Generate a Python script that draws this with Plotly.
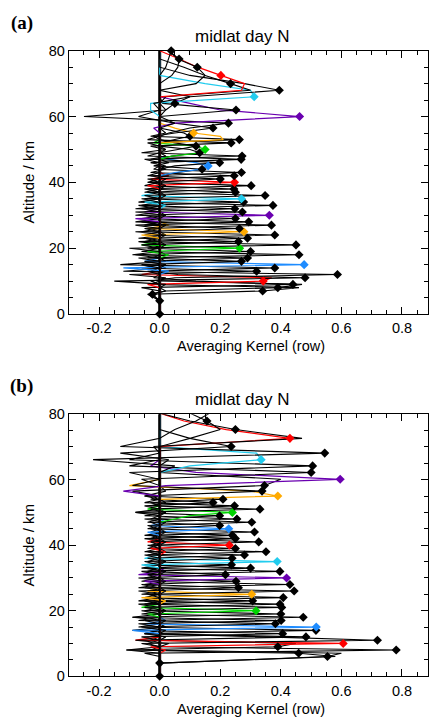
import plotly.graph_objects as go

# ---------------- data: panel (a) ----------------
A_ALT = [0, 4, 6, 7, 8, 9, 10, 11, 12, 13, 14, 15, 16, 17, 18, 19, 20, 21, 22, 23, 24,
         25, 26, 27, 28, 29, 30, 31, 32, 33, 34, 35, 36, 37, 38, 39, 40, 41, 42, 43, 44,
         45, 46, 47, 48, 49, 50, 51, 52, 53, 54, 55, 56.5, 58, 60, 62, 64, 66, 68, 70,
         72.5, 75, 77.5, 80]
A_PEAK = [0, 0, -0.024, 0.34, 0.39, 0.44, 0.342, 0.48, 0.587, 0.32, 0.38, 0.477, 0.27,
          0.29, 0.46, 0.30, 0.264, 0.45, 0.26, 0.29, 0.38, 0.278, 0.263, 0.369, 0.294,
          0.25, 0.362, 0.273, 0.248, 0.374, 0.277, 0.27, 0.348, 0.25, 0.245, 0.302, 0.247,
          0.20, 0.246, 0.27, 0.14, 0.16, 0.198, 0.269, 0.272, 0.132, 0.15, 0.12, 0.236,
          0.263, 0.10, 0.112, 0.176, 0.227, 0.462, 0.252, 0.05, 0.312, 0.395, 0.234,
          0.202, 0.124, 0.064, 0.038]
A_LO1 = [0, 0, 0, -0.03, 0.02, -0.06, -0.04, -0.15, 0.05, -0.10, -0.04, -0.12, -0.06,
         -0.05, -0.07, -0.08, -0.04, -0.10, -0.06, -0.07, -0.05, -0.06, -0.08, -0.05,
         -0.08, -0.06, -0.08, -0.05, -0.08, -0.06, -0.07, -0.05, -0.06, -0.05, -0.04,
         -0.05, -0.04, -0.03, -0.04, -0.03, 0.06, 0.14, 0.05, -0.03, -0.05, 0.04, 0.14,
         0.06, -0.03, -0.04, 0.05, 0.20, 0.05, 0.10, 0.05, 0.0, 0.02, -0.03, 0.10, 0.30,
         0.28, 0.15, 0.06, 0.03]
A_HI1 = [0, 0, 0.02, 0.46, 0.47, 0.12, 0.37, 0.06, -0.12, -0.06, -0.13, -0.05, -0.04,
         -0.09, -0.06, -0.04, -0.06, -0.05, -0.07, -0.05, -0.06, -0.04, -0.05, -0.08,
         -0.06, -0.08, -0.05, -0.08, -0.06, -0.07, -0.05, -0.06, -0.05, -0.04, -0.05,
         -0.04, -0.03, -0.04, -0.03, -0.02, -0.02, 0.12, -0.03, -0.04, -0.06, 0.10, 0.12,
         0.05, -0.04, -0.03, 0.08, 0.05, 0.05, -0.25, 0.20, 0.01, 0.10, 0.30, 0.28, 0.15,
         0.125, 0.06, 0.03, 0]
A_LO2 = [0, 0, 0, 0, -0.04, 0, 0, 0.02, -0.03, 0.02, 0, 0.03, 0, 0.02, 0, 0, 0.03, 0, 0,
         0.02, 0, 0, 0.02, 0, 0, 0.02, 0, 0, 0.02, 0, 0, 0.02, 0, 0, 0.02, 0, 0, 0.02, 0,
         0.02, 0, 0.05, 0, 0.02, 0, 0, 0.04, 0, 0.02, 0, 0, 0.21, -0.02, 0.03, -0.02, 0.05,
         0, -0.03, -0.02, 0.02, 0.27, 0.12, 0.04, 0.02]
A_HI2 = [0, 0, 0, -0.03, 0, -0.02, -0.06, -0.03, 0.02, 0, 0.02, 0, 0.02, 0, 0, 0.02, 0,
         0, 0.02, 0, 0, 0.03, 0, 0, 0.02, 0, 0, 0.02, 0, 0, 0.02, 0, 0, 0.02, 0, 0, 0.03,
         0, 0.02, 0, 0.03, 0.03, 0.02, 0, 0.02, 0, -0.02, 0, 0, 0.02, 0, 0, -0.07, 0.02,
         0.10, 0, 0, 0.15, 0.10, 0.08, 0.065, 0.03, 0, 0]
A_HIGHLIGHT = [10, 15, 20, 25, 30, 35, 40, 45, 50, 55, 60, 66, 72.5]

# ---------------- data: panel (b) ----------------
B_ALT = [0, 4, 6, 7, 8, 9, 10, 11, 12, 13, 14, 15, 16, 17, 18, 19, 20, 21, 22, 23, 24,
         25, 26, 27, 28, 29, 30, 31, 32, 33, 34, 35, 36, 37, 38, 39, 40, 41, 42, 43, 44,
         45, 46, 47, 48, 49, 50, 51, 52, 53, 54, 55, 56.5, 58.2, 60.1, 62.2, 64.2, 66.1,
         68.1, 70.1, 72.6, 75.3, 77.9, 80.3]
B_PEAK = [0, 0, 0.554, 0.459, 0.781, 0.39, 0.606, 0.719, 0.483, 0.406, 0.516, 0.517,
          0.382, 0.401, 0.474, 0.40, 0.318, 0.403, 0.397, 0.307, 0.408, 0.304, 0.444,
          0.26, 0.43, 0.252, 0.419, 0.217, 0.397, 0.30, 0.237, 0.388, 0.239, 0.28, 0.351,
          0.25, 0.23, 0.327, 0.25, 0.24, 0.313, 0.228, 0.198, 0.304, 0.255, 0.198, 0.24,
          0.331, 0.247, 0.176, 0.209, 0.39, 0.338, 0.346, 0.596, 0.50, 0.505, 0.335,
          0.545, 0.236, 0.43, 0.25, 0.156, 0.165]
B_LO1 = [0, 0, 0, 0.58, -0.05, -0.11, -0.03, -0.06, -0.08, -0.06, -0.05, -0.09, -0.06,
         -0.07, -0.05, -0.09, -0.04, -0.06, -0.05, -0.07, -0.05, -0.06, -0.04, -0.07,
         -0.05, -0.06, -0.05, -0.07, -0.04, -0.06, -0.05, -0.06, -0.05, -0.04, -0.05,
         -0.04, -0.03, -0.04, -0.03, -0.05, -0.03, -0.04, -0.03, -0.04, -0.03, -0.05,
         0.10, -0.08, -0.03, -0.05, -0.03, 0.0, -0.05, -0.09, 0.02, -0.06, -0.10, 0.10,
         -0.22, -0.13, 0.0, 0.47, 0.20, 0.12]
B_HI1 = [0, 0, 0.60, -0.11, 0.0, 0.45, -0.08, 0.35, -0.05, -0.09, -0.07, -0.05, -0.07,
         -0.09, -0.06, -0.05, -0.06, -0.05, -0.07, -0.05, -0.06, -0.04, -0.07, -0.05,
         -0.06, -0.05, -0.07, -0.04, -0.06, -0.05, -0.04, -0.05, -0.04, -0.05, -0.04,
         -0.03, -0.04, -0.03, -0.05, -0.03, -0.04, -0.03, -0.04, -0.03, -0.05, -0.08,
         -0.04, -0.03, -0.05, -0.03, -0.05, 0.30, -0.09, 0.40, 0.12, -0.10, -0.10, 0.32,
         -0.13, 0.10, 0.22, 0.10, 0.10, 0]
B_LO2 = [0, 0, 0, 0, 0, 0, 0.02, 0, 0.03, 0, 0.02, 0, 0.02, 0, 0, 0.02, 0, 0, 0.02, 0, 0,
         0.02, 0, 0, 0.02, 0, 0, 0.02, 0, 0, 0.02, 0, 0, 0.02, 0, 0, 0.02, 0, 0, 0.02, 0,
         0, 0.02, 0, 0, 0.02, 0.05, 0, 0.02, 0, 0, 0, 0, 0, -0.12, 0, 0, 0, 0.05, 0.03, 0,
         -0.02, 0.10, 0.05]
B_HI2 = [0, 0, -0.03, 0, -0.04, -0.03, 0, -0.05, 0, 0.02, 0, 0.02, 0, 0, 0.02, 0, 0, 0.02,
         0, 0, 0.02, 0, 0, 0.02, 0, 0, 0.02, 0, 0, 0.02, 0, 0, 0.02, 0, 0, 0.02, 0, 0,
         0.02, 0, 0, 0.02, 0, 0, 0.02, 0, 0, 0.02, 0, 0, 0.02, -0.10, 0, 0, -0.03, 0, 0,
         0.0, 0, 0, 0.08, 0, 0, 0]
B_HIGHLIGHT = [10, 15, 20, 25, 30, 35, 40, 45, 50, 55, 60.1, 66.1, 72.6]

X_TICKVALS = [-0.2, 0.0, 0.2, 0.4, 0.6, 0.8]
X_TICKTEXT = ["-0.2", "0.0", "0.2", "0.4", "0.6", "0.8"]
Y_TICKVALS = [0, 20, 40, 60, 80]

TITLE = "midlat day N"
X_TITLE = "Averaging Kernel (row)"
Y_TITLE = "Altitude / km"
PANEL_LABELS = ["(a)", "(b)"]

# ---------------- styling ----------------
PALETTE = ["#ff0000", "#1e8cff", "#00d400", "#ffaa00", "#6a00b0", "#22ccee"]
FONT = "Liberation Sans, Arial, sans-serif"
W, H = 429, 725
X_LEFT = 69
PANELS = [  # top px, bottom px, x-title centre px
    (43.7, 312.9, 345.5),
    (415.3, 683.3, 716.5),
]


def kernel_rows(alts, peak, lo1, hi1, lo2, hi2):
    n = len(alts)
    rows = []
    for i in range(n):
        v = [0.0] * n
        v[i] = peak[i]
        for off, arr in ((-2, lo2), (2, hi2), (-1, lo1), (1, hi1)):
            j = i + off
            if 0 <= j < n:
                v[j] = arr[i]
        rows.append(v)
    return rows


fig = go.Figure()

datasets = [
    (A_ALT, A_PEAK, A_LO1, A_HI1, A_LO2, A_HI2, A_HIGHLIGHT),
    (B_ALT, B_PEAK, B_LO1, B_HI1, B_LO2, B_HI2, B_HIGHLIGHT),
]

for p, (alts, peak, lo1, hi1, lo2, hi2, hl) in enumerate(datasets):
    xa = "x" if p == 0 else "x2"
    ya = "y" if p == 0 else "y2"
    rows = kernel_rows(alts, peak, lo1, hi1, lo2, hi2)
    colors = []
    for i, z in enumerate(alts):
        if z in hl:
            colors.append(PALETTE[hl.index(z) % len(PALETTE)])
        else:
            colors.append("#000000")
    for i, v in enumerate(rows):
        width = 3 if i == 0 else (1.1 if colors[i] == "#000000" else 1.2)
        fig.add_trace(go.Scatter(x=v, y=alts, mode="lines", xaxis=xa, yaxis=ya,
                                 line=dict(color=colors[i], width=width),
                                 hoverinfo="skip", showlegend=False))
    fig.add_trace(go.Scatter(x=peak, y=alts, mode="markers", xaxis=xa, yaxis=ya,
                             marker=dict(symbol="diamond", size=7, color=colors,
                                         line=dict(width=0)),
                             cliponaxis=False, hoverinfo="skip", showlegend=False))

axis_common = dict(showline=True, linecolor="black", linewidth=1, mirror="ticks",
                   ticks="inside", ticklen=7, tickwidth=1, tickcolor="black",
                   showgrid=False, zeroline=False,
                   tickfont=dict(family=FONT, size=14.5, color="black"))

layout = dict(width=W, height=H, margin=dict(l=0, r=0, t=0, b=0),
              plot_bgcolor="white", paper_bgcolor="white", showlegend=False,
              font=dict(family=FONT, color="black"))

annotations = []
for p, (top, bot, xt) in enumerate(PANELS):
    sfx = "" if p == 0 else "2"
    ydom = [1 - bot / H, 1 - top / H]
    layout["xaxis" + sfx] = dict(
        axis_common, domain=[X_LEFT / W, 1.0], range=[-0.3, 0.886],
        anchor="y" + sfx, tickmode="array", tickvals=X_TICKVALS, ticktext=X_TICKTEXT,
        ticklabelstandoff=1,
        minor=dict(tick0=0, dtick=0.05, ticklen=4, ticks="inside", tickcolor="black"))
    layout["yaxis" + sfx] = dict(
        axis_common, domain=ydom, range=[0, 80], anchor="x" + sfx,
        tickmode="array", tickvals=Y_TICKVALS,
        minor=dict(tick0=0, dtick=5, ticklen=4, ticks="inside", tickcolor="black"),
        title=dict(text=Y_TITLE, font=dict(family=FONT, size=15), standoff=10))
    annotations.append(dict(text=X_TITLE, x=251.7 / W, y=1 - xt / H,
                            xref="paper", yref="paper", showarrow=False,
                            xanchor="center", yanchor="middle",
                            font=dict(family=FONT, size=14.5, color="black")))
    annotations.append(dict(text=TITLE, x=242.5 / W, y=1 - (top - 15) / H,
                            xref="paper", yref="paper", showarrow=False,
                            xanchor="center", yanchor="middle",
                            font=dict(family=FONT, size=17, color="black")))
    annotations.append(dict(text="<b>" + PANEL_LABELS[p] + "</b>", x=22 / W,
                            y=1 - (top - 28.5) / H, xref="paper", yref="paper",
                            showarrow=False, xanchor="center", yanchor="middle",
                            font=dict(family="Liberation Serif, Times New Roman, serif",
                                      size=19, color="black")))
layout["annotations"] = annotations
fig.update_layout(**layout)
fig.write_html("out.html")
